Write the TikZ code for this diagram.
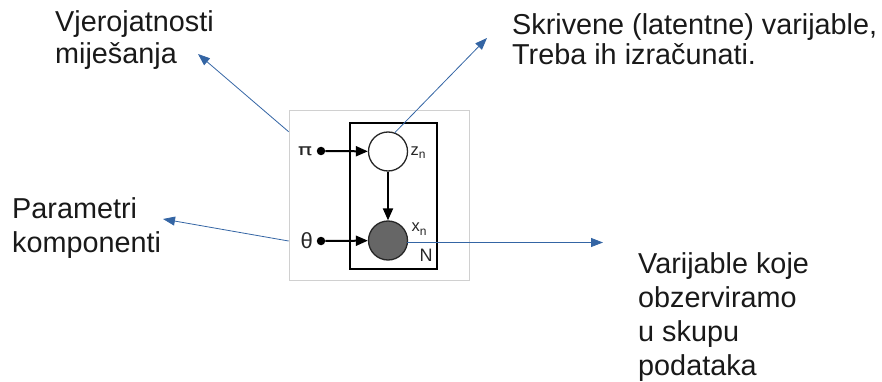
\documentclass[tikz,border=0pt]{standalone}
\usepackage{fontspec}
\setmainfont{Liberation Sans}
\newfontfamily\symfont{DejaVu Sans}
\usetikzlibrary{arrows.meta}
\definecolor{callout}{HTML}{3465A4}
\definecolor{obsfill}{HTML}{666666}
\definecolor{framegray}{HTML}{D0D0D0}
\newcommand{\subn}{\raisebox{-3.5pt}{\fontsize{12}{13}\selectfont n}}
\begin{document}
\begin{tikzpicture}[x=1pt,y=-1pt,
  label text/.style={font=\fontsize{28.8}{#1}\selectfont, align=left, anchor=base west, inner sep=0pt, text=black!90},
  calloutarrow/.style={draw=callout, line width=0.8pt, -{Triangle[length=12pt,width=9pt,fill=callout]}},
  latent/.style={circle, draw=black!85, line width=1.3pt, minimum size=39pt, inner sep=0pt, fill=white},
  observed/.style={latent, fill=obsfill},
  param/.style={circle, fill=black, minimum size=8.5pt, inner sep=0pt},
  edge/.style={draw=black, line width=2pt, -{Triangle[length=12pt,width=10pt]}},
  sym/.style={font=\fontsize{16.5}{18}\selectfont, inner sep=0pt, text=black!85}]
\useasboundingbox (0,0) rectangle (882,382);

% inset frame and plate
\node (frame) [draw=framegray, line width=0.6pt, minimum width=180pt, minimum height=170pt, inner sep=0pt] at (379,195) {};
\node (plate) [draw=black, line width=2pt, minimum width=87pt, minimum height=146pt, inner sep=0pt] at (393.5,196) {};

% graphical model
\node (zn) [latent] at (388,151.5) {};
\node (xn) [observed] at (388,240.5) {};
\node (pidot) [param] at (321,151) {};
\node (thdot) [param] at (321,241) {};
\node (pi) [sym, font=\symfont\fontsize{16}{18}\selectfont] at (305,151.5) {\scalebox{1.5}[1]{π}};
\node (th) [sym, font=\fontsize{22}{24}\selectfont] at (306.7,240.5) {θ};
\node (zlab) [sym, anchor=base west] at (410.5,155.5) {z\subn};
\node (xlab) [sym, anchor=base west] at (411.5,231.5) {x\subn};
\node (nlab) [font=\fontsize{18}{20}\selectfont, inner sep=0pt, text=black!85, anchor=base west] at (419.5,261.7) {N};

\draw[edge] (pidot) -- (zn);
\draw[edge] (thdot) -- (xn);
\draw[edge] (zn) -- (xn);

% explanatory labels (anchored on the last line's baseline)
\node (mix) [label text=31.5] at (55,63.5) {Vjerojatnosti\\miješanja};
\node (hid) [label text=30] at (512,65) {Skrivene (latentne) varijable,\\Treba ih izračunati.};
\node (par) [label text=34] at (12,252) {Parametri\\komponenti};
\node (obs) [label text=34] at (638,375) {Varijable koje\\obzerviramo\\u skupu\\podataka};

% callout arrows
\coordinate (mixtip) at (198,54);
\coordinate (hidtip) at (487,38);
\coordinate (partip) at (163,219);
\coordinate (obstip) at (603,242.5);
\coordinate (obsstart) at (407,242.5);
\draw[calloutarrow] (frame.145) -- (mixtip);
\draw[calloutarrow] (zn.70) -- (hidtip);
\draw[calloutarrow] (frame.207) -- (partip);
\draw[calloutarrow] (obsstart) -- (obstip);
\end{tikzpicture}
\end{document}
